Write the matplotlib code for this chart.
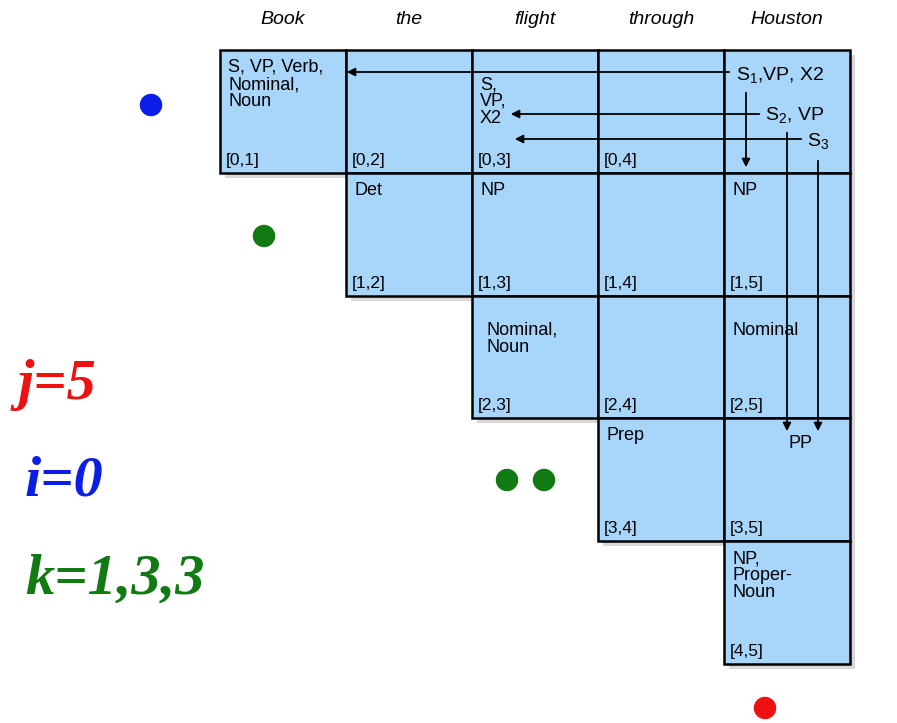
import matplotlib.pyplot as plt
from matplotlib.patches import Rectangle

plt.rcParams['font.family'] = ['Liberation Sans', 'DejaVu Sans']

# Sentence and chart contents
words = ['Book', 'the', 'flight', 'through', 'Houston']
cell_labels = {
    (0, 1): 'S, VP, Verb,\nNominal,\nNoun',
    (0, 2): '',
    (0, 3): '\nS,\nVP,\nX2',
    (0, 4): '',
    (0, 5): '',
    (1, 2): 'Det',
    (1, 3): 'NP',
    (1, 4): '',
    (1, 5): 'NP',
    (2, 3): '\nNominal,\nNoun',
    (2, 4): '',
    (2, 5): '\nNominal',
    (3, 4): 'Prep',
    (3, 5): '',
    (4, 5): 'NP,\nProper-\nNoun',
}
hidden_index = [(0, 5)]

x0, y0, cw, ch = 220, 50, 126, 122.8
blue = '#a8d5fa'

fig = plt.figure(figsize=(8.97, 7.23), dpi=100)
ax = fig.add_axes([0, 0, 1, 1])
ax.set_xlim(0, 897)
ax.set_ylim(723, 0)
ax.axis('off')

# shadows first
for (i, j) in cell_labels:
    ax.add_patch(Rectangle((x0 + (j - 1) * cw + 5, y0 + i * ch + 5), cw, ch,
                           facecolor='#d8d8d8', edgecolor='none', zorder=1))
for (i, j), lab in cell_labels.items():
    cx = x0 + (j - 1) * cw
    cy = y0 + i * ch
    ax.add_patch(Rectangle((cx, cy), cw, ch, facecolor=blue,
                           edgecolor='black', lw=1.8, zorder=2))
    if (i, j) not in hidden_index:
        ax.text(cx + 6, cy + ch - 5, '[%d,%d]' % (i, j), fontsize=12.5,
                va='bottom', ha='left', zorder=3)
    if lab:
        dx = 8 + (6 if (i, j) == (2, 3) else 0)
        ax.text(cx + dx, cy + 9, lab, fontsize=13, va='top', ha='left',
                linespacing=1.0, zorder=3)

for k, w in enumerate(words):
    ax.text(x0 + (k + 0.5) * cw, 20, w, fontsize=14, style='italic',
            ha='center', va='center')

# extra labels in the [0,5] and [3,5] cells
ax.text(736, 76, r'S$_\mathregular{1}$,VP, X2', fontsize=14, va='center', zorder=4)
ax.text(765, 116, r'S$_\mathregular{2}$, VP', fontsize=14, va='center', zorder=4)
ax.text(807, 142, r'S$_\mathregular{3}$', fontsize=14, va='center', zorder=4)
ax.text(788, 444, 'PP', fontsize=13, va='center', zorder=4)

arr = dict(arrowstyle='-|>', color='black', lw=1.3, mutation_scale=12)
ax.annotate('', xy=(344, 72), xytext=(732, 72), arrowprops=arr, zorder=5)
ax.annotate('', xy=(746, 170), xytext=(746, 90), arrowprops=arr, zorder=5)
ax.annotate('', xy=(508, 114), xytext=(762, 114), arrowprops=arr, zorder=5)
ax.annotate('', xy=(512, 139), xytext=(804, 139), arrowprops=arr, zorder=5)
ax.annotate('', xy=(787, 434), xytext=(787, 130), arrowprops=arr, zorder=5)
ax.annotate('', xy=(818, 434), xytext=(818, 158), arrowprops=arr, zorder=5)

# index markers
dots_x = [151, 264, 507, 544, 765]
dots_y = [105, 236, 480, 480, 708]
dots_c = ['#0a1ee8', '#127a12', '#127a12', '#127a12', '#ee1111']
ax.scatter(dots_x, dots_y, s=230, c=dots_c, zorder=6)

big = dict(fontsize=42, fontweight='bold', style='italic',
           family='Liberation Serif', va='center', ha='left')
ax.text(18, 385, 'j=5', color='#ee1111', **big)
ax.text(25, 482, 'i=0', color='#0a1ee8', **big)
ax.text(25, 580, 'k=1,3,3', color='#127a12', **big)

fig.savefig('out.png', dpi=100)
